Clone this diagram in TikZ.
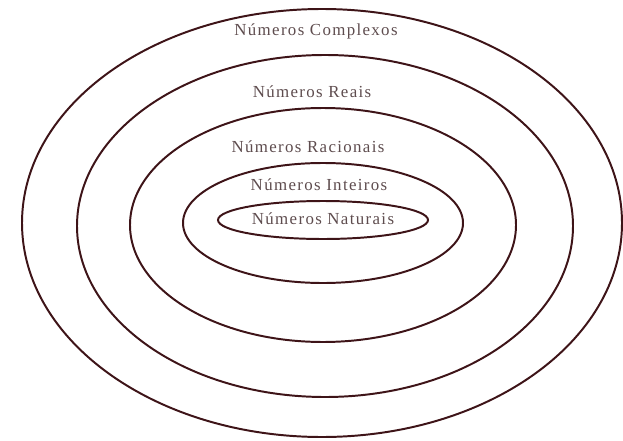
\documentclass[tikz,border=0pt]{standalone}
\usepackage{fontspec}
\usepackage{tikz}
\usetikzlibrary{positioning}
\newfontfamily\conjfont[LetterSpace=8]{Liberation Serif}
\definecolor{ringline}{HTML}{3E1418}
\definecolor{conjtext}{HTML}{5E4C4E}
\tikzset{
  ring/.style={draw=ringline, line width=1.4pt},
  conjlabel/.style={font=\conjfont\fontsize{12}{14}\selectfont, text=conjtext, inner sep=1pt}
}

\begin{document}
\begin{tikzpicture}[x=0.025cm,y=-0.025cm]
  \useasboundingbox (0,0) rectangle (623,440);
  % nested sets, outer to inner
  \foreach \cx/\cy/\rx/\ry in {322/223/300/214, 325/226/248/171, 323/225/193/117, 323/223/140/60, 323/220/105/19}
    \draw[ring] (\cx,\cy) ellipse ({\rx} and {\ry});

  \node[conjlabel] (complexos) at (316,31) {Números Complexos};
  \node[conjlabel] (reais) at (312,92) {Números Reais};
  \node[conjlabel] (racionais) at (308,147) {Números Racionais};
  \node[conjlabel] (inteiros) at (319,185) {Números Inteiros};
  \node[conjlabel] (naturais) at (323,219) {Números Naturais};
\end{tikzpicture}
\end{document}
